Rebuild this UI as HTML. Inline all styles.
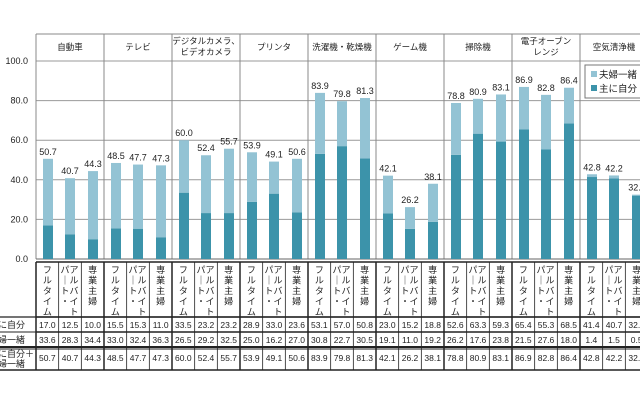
<!DOCTYPE html>
<html><head><meta charset="utf-8"><style>
html,body{margin:0;padding:0;background:#fff;width:640px;height:400px;overflow:hidden}
svg{display:block}
text{font-family:"Liberation Sans","Noto Sans CJK JP",sans-serif;fill:#222}
</style></head><body>
<svg id="c" width="640" height="400"></svg>
<script>
const groups=["自動車","テレビ","デジタルカメラ、|ビデオカメラ","プリンタ","洗濯機・乾燥機","ゲーム機","掃除機","電子オーブン|レンジ","空気清浄機"];
const mainSelf=[17.0,12.5,10.0,15.5,15.3,11.0,33.5,23.2,23.2,28.9,33.0,23.6,53.1,57.0,50.8,23.0,15.2,18.8,52.6,63.3,59.3,65.4,55.3,68.5,41.4,40.7,32.0];
const together=[33.6,28.3,34.4,33.0,32.4,36.3,26.5,29.2,32.5,25.0,16.2,27.0,30.8,22.7,30.5,19.1,11.0,19.2,26.2,17.6,23.8,21.5,27.6,18.0,1.4,1.5,0.5];
const totals=[50.7,40.7,44.3,48.5,47.7,47.3,60.0,52.4,55.7,53.9,49.1,50.6,83.9,79.8,81.3,42.1,26.2,38.1,78.8,80.9,83.1,86.9,82.8,86.4,42.8,42.2,32.5];
const yTicks=["0.0","20.0","40.0","60.0","80.0","100.0"];
const svg=document.getElementById('c');const NS="http://www.w3.org/2000/svg";
function el(t,a,p){const e=document.createElementNS(NS,t);for(const k in a)e.setAttribute(k,a[k]);(p||svg).appendChild(e);return e;}
const X0=36,GW=68,Y0=259,Y100=61;
const y=v=>Y0-(Y0-Y100)*v/100;
const DARK="#3c93aa",LIGHT="#93c3d4";
// gridlines
yTicks.forEach((t,i)=>{const v=i*20;const g=el('line',{x1:X0,x2:640,y1:y(v),y2:y(v),stroke:'#999','stroke-width':1});

const tx=el('text',{x:28,y:y(v)+3,'font-size':9,'text-anchor':'end'});tx.textContent=t;
});
// header frame
el('line',{x1:X0,x2:640,y1:34,y2:34,stroke:'#888'});
groups.forEach((g,gi)=>{const gx=X0+gi*GW;
 const b=el('line',{x1:gx,x2:gx,y1:34,y2:259,stroke:'#888'});
 const lines=g.split('|');lines.forEach((l,li)=>{const t=el('text',{x:gx+GW/2,y:(lines.length==1?50:44)+li*11,'font-size':8.5,'text-anchor':'middle'});t.textContent=l;
 });
});
el('line',{x1:X0,x2:640,y1:259,y2:259,stroke:'#666'});
// bars
const offs=[7,29,52];
mainSelf.forEach((m,i)=>{const gi=Math.floor(i/3),k=i%3;const bx=X0+gi*GW+offs[k];const tg=together[i];
 const r1=el('rect',{x:bx,y:y(m),width:10,height:Y0-y(m),fill:DARK});
 const r2=el('rect',{x:bx,y:y(m+tg),width:10,height:y(m)-y(m+tg),fill:LIGHT});
 const t=el('text',{x:bx+5,y:y(m+tg)-4,'font-size':9,'text-anchor':'middle'});t.textContent=totals[i].toFixed(1);
 });
// legend
const lg=el('g',{});
el('rect',{x:585,y:65,width:60,height:33,fill:'#fff',stroke:'#777'},lg);
el('rect',{x:591,y:71,width:6,height:6,fill:LIGHT},lg);
let t1=el('text',{x:599,y:78,'font-size':9.5},lg);t1.textContent='夫婦一緒';
el('rect',{x:591,y:85,width:6,height:6,fill:DARK},lg);
let t2=el('text',{x:599,y:92,'font-size':9.5},lg);t2.textContent='主に自分';
// table
const TT=262,R1=317,R2=332,R3=347,R4=370;
[TT,R1,R2].forEach(yy=>el('line',{x1:X0,x2:640,y1:yy,y2:yy,stroke:'#222','stroke-width':1.5}));
el('line',{x1:0,x2:640,y1:R1,y2:R1,stroke:'#222','stroke-width':1.2});
el('line',{x1:0,x2:640,y1:R2,y2:R2,stroke:'#222','stroke-width':1});
el('line',{x1:0,x2:640,y1:R3,y2:R3,stroke:'#222','stroke-width':2});
el('line',{x1:0,x2:640,y1:R3+2,y2:R3+2,stroke:'#222','stroke-width':1});
el('line',{x1:0,x2:640,y1:R4,y2:R4,stroke:'#222','stroke-width':1.5});
const cats=["フルタイム","アルバイト\nパート・","専業主婦"];
const CW=GW/3;
for(let i=0;i<totals.length;i++){const cx=X0+i*CW;
 el('line',{x1:cx,x2:cx,y1:TT,y2:R4,stroke:'#222','stroke-width':i%3==0?1.5:0.8});
 const k=i%3;const parts=cats[k].split('\n');
 parts.forEach((p,pi)=>{const xx=parts.length==2?cx+CW/2+(pi==0?4:-5):cx+CW/2;
  [...p].forEach((ch,ci)=>{const t=el('text',{x:xx,y:TT+11+ci*10.5,'font-size':9,'text-anchor':'middle'});t.textContent=(ch=='ー'?'｜':ch);
  });});
 [[mainSelf[i],R1+11],[together[i],R2+11],[totals[i],R3+14]].forEach(([v,yy])=>{const t=el('text',{x:cx+CW/2,y:yy,'font-size':8.5,'text-anchor':'middle'});t.textContent=v.toFixed(1);
 });
}
[["に自分",R1+11],["婦一緒",R2+11],["に自分＋",R3+10],["婦一緒",R3+20]].forEach(([s,yy])=>{const t=el('text',{x:-2,y:yy,'font-size':9});t.textContent=s;
});
</script>
</body></html>
